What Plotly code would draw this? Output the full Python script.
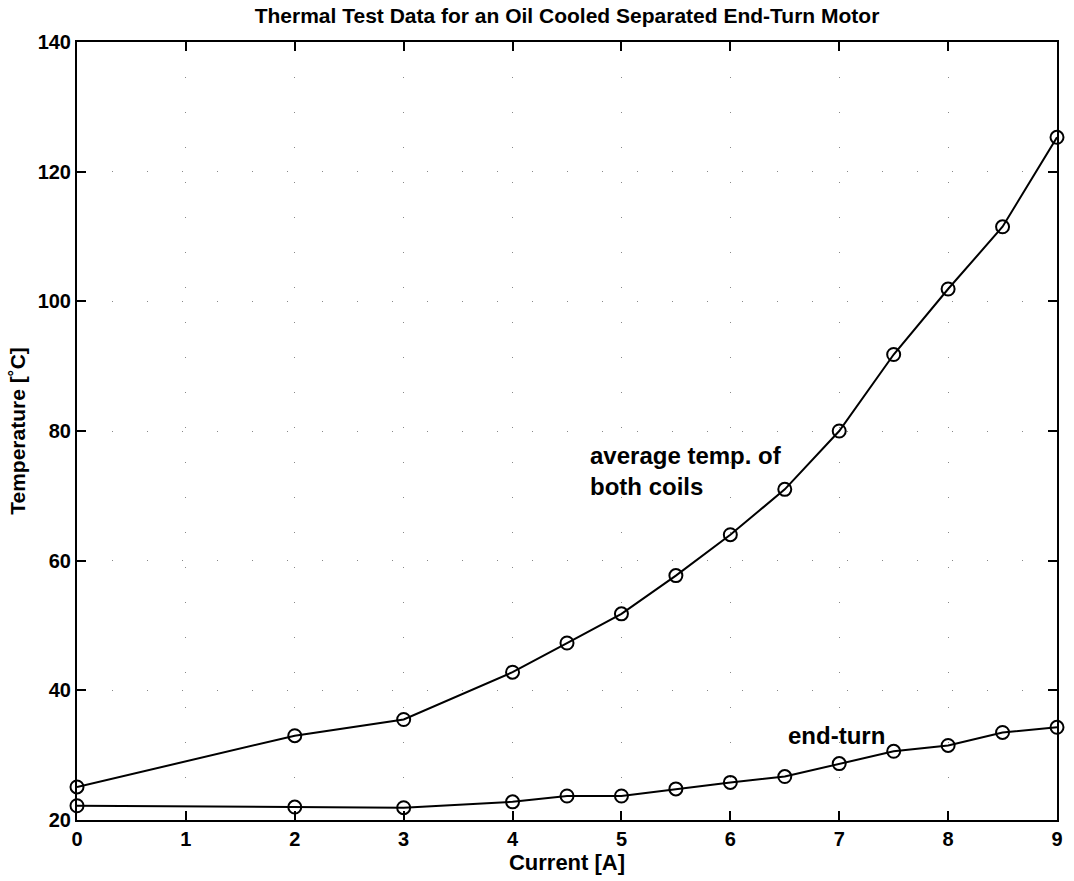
import plotly.graph_objects as go

# Motor current [A]
current = [0, 2, 3, 4, 4.5, 5, 5.5, 6, 6.5, 7, 7.5, 8, 8.5, 9]
# Average temperature of both coils [°C]
coil_temp = [25.1, 33.0, 35.5, 42.8, 47.3, 51.8, 57.7, 64.0, 71.0, 80.0, 91.8, 101.9, 111.5, 125.3]
# End-turn temperature [°C]
endturn_temp = [22.2, 22.0, 21.9, 22.8, 23.7, 23.7, 24.8, 25.8, 26.7, 28.7, 30.6, 31.5, 33.5, 34.3]

x_ticks = list(range(0, 10))
y_ticks = [20, 40, 60, 80, 100, 120, 140]

FONT = "Liberation Sans, Arial, Helvetica, sans-serif"

fig = go.Figure()
for ys in (coil_temp, endturn_temp):
    fig.add_trace(go.Scatter(
        x=current, y=ys, mode="lines+markers",
        line=dict(color="black", width=2),
        marker=dict(symbol="circle-open", size=13, color="black",
                    line=dict(color="black", width=2)),
        showlegend=False, cliponaxis=False,
    ))

axis_common = dict(
    showline=True, linecolor="black", linewidth=2, mirror="ticks",
    ticks="inside", ticklen=9, tickwidth=2, tickcolor="black",
    showgrid=True, gridcolor="#888", gridwidth=1, griddash="1px,34px",
    zeroline=False,
    tickfont=dict(family=FONT, size=20, color="black", weight="bold"),
)

fig.update_xaxes(range=[0, 9], tickvals=x_ticks, ticktext=[str(v) for v in x_ticks],
                 title=dict(text="Current [A]", standoff=4,
                            font=dict(family=FONT, size=22, color="black", weight="bold")),
                 **axis_common)
fig.update_yaxes(range=[20, 140], tickvals=y_ticks, ticktext=[str(v) for v in y_ticks],
                 title=dict(text="Temperature [˚C]", standoff=6,
                            font=dict(family=FONT, size=21, color="black", weight="bold")),
                 **axis_common)

fig.add_annotation(x=4.69, y=73.8, xref="x", yref="y", xanchor="left", yanchor="middle",
                   text="average temp. of<br>both coils", showarrow=False, align="left",
                   font=dict(family=FONT, size=24, color="black", weight="bold"))
fig.add_annotation(x=6.51, y=33.0, xref="x", yref="y", xanchor="left", yanchor="middle",
                   text="end-turn", showarrow=False, align="left",
                   font=dict(family=FONT, size=24, color="black", weight="bold"))

fig.update_layout(
    width=1074, height=881,
    margin=dict(l=77, r=17, t=42, b=61),
    paper_bgcolor="white", plot_bgcolor="white",
    title=dict(text="Thermal Test Data for an Oil Cooled Separated End-Turn Motor",
               x=(77 + 1057) / 2 / 1074, xanchor="center",
               y=1 - 16 / 881, yanchor="middle", yref="container",
               font=dict(family=FONT, size=21, color="black", weight="bold")),
)

fig.write_html("out.html")
